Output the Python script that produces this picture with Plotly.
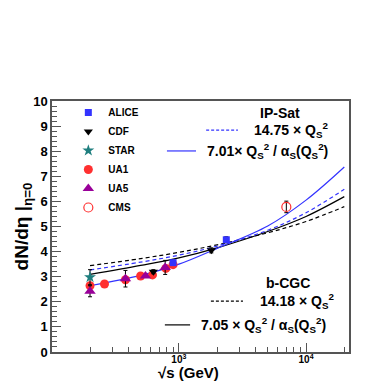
import plotly.graph_objects as go

alice_x = [900, 2360]
alice_y = [3.56, 4.47]
alice_err = [0.10, 0.12]

cdf_x = [630, 1800]
cdf_y = [3.20, 4.05]
cdf_err = [0.08, 0.10]

star_x = [200]
star_y = [2.98]
star_err = [0.30]

ua1_x = [200, 260, 380, 500, 620, 790, 900]
ua1_y = [2.64, 2.71, 2.88, 3.03, 3.07, 3.33, 3.48]

ua5_x = [200, 380, 546, 780]
ua5_y = [2.42, 2.92, 3.03, 3.37]
ua5_err = [0.22, 0.33, 0.05, 0.28]

cms_x = [7000]
cms_y = [5.78]
cms_err = [0.23]

# model curves
curve_x = [200, 500, 1000, 2000, 5000, 10000, 20000]
ipsat_fixed = [3.27, 3.58, 3.86, 4.22, 4.85, 5.55, 6.48]
ipsat_run = [2.64, 3.05, 3.50, 4.13, 5.02, 6.05, 7.37]
bcgc_fixed = [3.44, 3.72, 3.97, 4.27, 4.75, 5.20, 5.79]
bcgc_run = [3.09, 3.45, 3.75, 4.15, 4.80, 5.40, 6.19]

BLUE = "#3333ff"
RED = "#ff3030"
FONT = "Liberation Sans, Arial, sans-serif"
DASH = "4px,3px"

fig = go.Figure()

#Model lines
fig.add_trace(go.Scatter(x=curve_x, y=bcgc_fixed, mode="lines", line_shape="spline",
                         line=dict(color="black", width=1.2, dash=DASH), showlegend=False))
fig.add_trace(go.Scatter(x=curve_x, y=bcgc_run, mode="lines", line_shape="spline",
                         line=dict(color="black", width=1.2), showlegend=False))
fig.add_trace(go.Scatter(x=curve_x, y=ipsat_fixed, mode="lines", line_shape="spline",
                         line=dict(color=BLUE, width=1.2, dash=DASH), showlegend=False))
fig.add_trace(go.Scatter(x=curve_x, y=ipsat_run, mode="lines", line_shape="spline",
                         line=dict(color=BLUE, width=1.2), showlegend=False))

#Data points
def errs(e):
    return dict(type="data", array=e, color="black", thickness=1, width=2)

fig.add_trace(go.Scatter(x=ua1_x, y=ua1_y, mode="markers", name="UA1", legendrank=4,
                         marker=dict(symbol="circle", size=9, color=RED)))
fig.add_trace(go.Scatter(x=ua5_x, y=ua5_y, mode="markers", name="UA5", legendrank=5,
                         error_y=errs(ua5_err),
                         marker=dict(symbol="triangle-up", size=10, color="#990099")))
fig.add_trace(go.Scatter(x=star_x, y=star_y, mode="markers", name="STAR", legendrank=3,
                         error_y=errs(star_err),
                         marker=dict(symbol="star", size=9, color="#1f7f7f")))
fig.add_trace(go.Scatter(x=cdf_x, y=cdf_y, mode="markers", name="CDF", legendrank=2,
                         error_y=errs(cdf_err),
                         marker=dict(symbol="triangle-down", size=8, color="black")))
fig.add_trace(go.Scatter(x=alice_x, y=alice_y, mode="markers", name="ALICE", legendrank=1,
                         error_y=errs(alice_err),
                         marker=dict(symbol="square", size=7, color=BLUE)))
fig.add_trace(go.Scatter(x=cms_x, y=cms_y, mode="markers", name="CMS", legendrank=6,
                         error_y=errs(cms_err),
                         marker=dict(symbol="circle-open", size=9, color=RED,
                                     line=dict(width=1.2))))

#Legend blocks for the models (keys drawn in paper space)
QS = "Q<sub>S</sub><sup>2</sup>"
txt = dict(xref="paper", yref="paper", showarrow=False, xanchor="left", yanchor="middle",
           font=dict(family=FONT, size=14, color="black", weight="bold"))
notes = [
    dict(x=0.768, y=0.952, text="IP-Sat", xanchor="center"),
    dict(x=0.675, y=0.884, text="14.75 × " + QS),
    dict(x=0.515, y=0.801, text="7.01× " + QS + " / α<sub>S</sub>(" + QS + ")"),
    dict(x=0.795, y=0.275, text="b-CGC", xanchor="center"),
    dict(x=0.692, y=0.203, text="14.18 × " + QS),
    dict(x=0.495, y=0.108, text="7.05 × " + QS + " / α<sub>S</sub>(" + QS + ")"),
]
for n in notes:
    a = dict(txt)
    a.update(n)
    fig.add_annotation(**a)

keys = [
    (0.519, 0.626, 0.884, BLUE, "3px,2px"),
    (0.387, 0.485, 0.801, BLUE, "solid"),
    (0.535, 0.643, 0.203, "black", "3px,2px"),
    (0.380, 0.465, 0.108, "black", "solid"),
]
for x0, x1, yk, c, d in keys:
    fig.add_shape(type="line", xref="paper", yref="paper", x0=x0, x1=x1, y0=yk, y1=yk,
                  line=dict(color=c, width=1.2, dash=d))

#Axis titles
fig.add_annotation(xref="paper", yref="paper", x=0.46, y=-0.08, yanchor="middle",
                   text="√s (GeV)", showarrow=False,
                   font=dict(family=FONT, size=15, color="black", weight="bold"))
fig.add_annotation(xref="paper", yref="paper", x=-0.098, y=0.5, textangle=-90,
                   xanchor="center", yanchor="middle",
                   text="dN/dη |<sub>η=0</sub>", showarrow=False,
                   font=dict(family=FONT, size=19, color="black", weight="bold"))

# the page body adds 8px on the top and left, so margins are shifted to compensate
fig.update_layout(
    width=382, height=382,
    margin=dict(l=44, r=41, t=93, b=38),
    paper_bgcolor="white", plot_bgcolor="white",
    font=dict(family=FONT, color="black"),
    showlegend=True,
    legend=dict(x=0.055, y=1.012, xanchor="left", yanchor="top",
                bgcolor="rgba(0,0,0,0)", tracegroupgap=0,
                font=dict(family=FONT, size=10, weight="bold")),
    xaxis=dict(type="log", range=[2.002, 4.338], showgrid=False, zeroline=False,
               showline=True, linecolor="#555555", linewidth=1.5, mirror=True,
               ticks="inside", ticklen=9, tickcolor="#555555", ticklabelstandoff=-3,
               tickvals=[1000, 10000], ticktext=["10<sup>3</sup>", "10<sup>4</sup>"],
               tickfont=dict(family=FONT, size=10, weight="bold"),
               minor=dict(ticks="inside", ticklen=5, tickcolor="#555555",
                          tickvals=[200, 300, 400, 500, 600, 700, 800, 900,
                                    2000, 3000, 4000, 5000, 6000, 7000, 8000, 9000, 20000])),
    yaxis=dict(range=[0, 10], showgrid=False, zeroline=False,
               showline=True, linecolor="#555555", linewidth=1.5, mirror=True,
               ticks="inside", ticklen=9, tickcolor="#555555", dtick=1,
               tickfont=dict(family=FONT, size=13, weight="bold"),
               minor=dict(ticks="inside", ticklen=5, tickcolor="#555555", dtick=0.2)),
)

fig.write_html("out.html")
